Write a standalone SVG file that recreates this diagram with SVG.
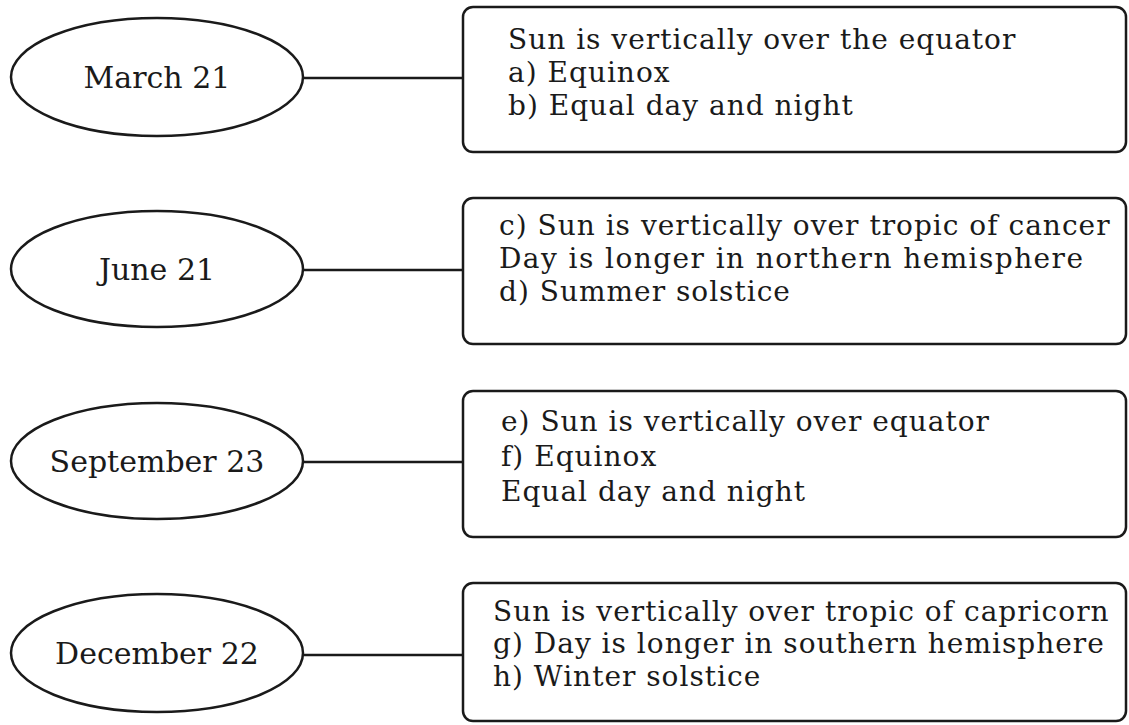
<svg xmlns="http://www.w3.org/2000/svg" width="1129" height="725" viewBox="0 0 1129 725">
  <style>
    .date { fill: #fff; stroke: #1a1a1a; stroke-width: 2.5; }
    .box { fill: #fff; stroke: #1a1a1a; stroke-width: 2.5; }
    .link { stroke: #1a1a1a; stroke-width: 2.5; fill: none; }
    .label { font-family: "DejaVu Serif", "Liberation Serif", serif; font-size: 30px; fill: #1a1a1a; text-anchor: middle; }
    .note { font-family: "DejaVu Serif", "Liberation Serif", serif; font-size: 28px; letter-spacing: 1px; fill: #1a1a1a; }
  </style>
  <rect width="1129" height="725" fill="#fff"/>

  <!-- connectors: date oval to its description box -->
  <g id="connectors">
    <line class="link" x1="303" y1="78" x2="464" y2="78"/>
    <line class="link" x1="303" y1="270" x2="464" y2="270"/>
    <line class="link" x1="303" y1="462" x2="464" y2="462"/>
    <line class="link" x1="303" y1="655" x2="464" y2="655"/>
  </g>

  <!-- date ovals -->
  <g id="march21">
    <ellipse class="date" cx="157" cy="77" rx="146" ry="59"/>
    <text class="label" x="157" y="88">March 21</text>
  </g>
  <g id="june21">
    <ellipse class="date" cx="157" cy="269" rx="146" ry="58"/>
    <text class="label" x="157" y="280">June 21</text>
  </g>
  <g id="september23">
    <ellipse class="date" cx="157" cy="461" rx="146" ry="58"/>
    <text class="label" x="157" y="472">September 23</text>
  </g>
  <g id="december22">
    <ellipse class="date" cx="157" cy="653" rx="146" ry="59"/>
    <text class="label" x="157" y="664">December 22</text>
  </g>

  <!-- description boxes -->
  <g id="box-march">
    <rect class="box" x="463" y="7" width="663" height="145" rx="10"/>
    <text class="note" x="508" y="49">Sun is vertically over the equator</text>
    <text class="note" x="508" y="82">a) Equinox</text>
    <text class="note" x="508" y="115">b) Equal day and night</text>
  </g>
  <g id="box-june">
    <rect class="box" x="463" y="198" width="663" height="146" rx="10"/>
    <text class="note" x="499" y="235">c) Sun is vertically over tropic of cancer</text>
    <text class="note" x="499" y="268" textLength="585" lengthAdjust="spacing">Day is longer in northern hemisphere</text>
    <text class="note" x="499" y="301">d) Summer solstice</text>
  </g>
  <g id="box-september">
    <rect class="box" x="463" y="391" width="663" height="146" rx="10"/>
    <text class="note" x="501" y="431">e) Sun is vertically over equator</text>
    <text class="note" x="501" y="466">f) Equinox</text>
    <text class="note" x="501" y="501">Equal day and night</text>
  </g>
  <g id="box-december">
    <rect class="box" x="463" y="583" width="663" height="138" rx="10"/>
    <text class="note" x="493" y="621">Sun is vertically over tropic of capricorn</text>
    <text class="note" x="493" y="653">g) Day is longer in southern hemisphere</text>
    <text class="note" x="493" y="686">h) Winter solstice</text>
  </g>
</svg>
